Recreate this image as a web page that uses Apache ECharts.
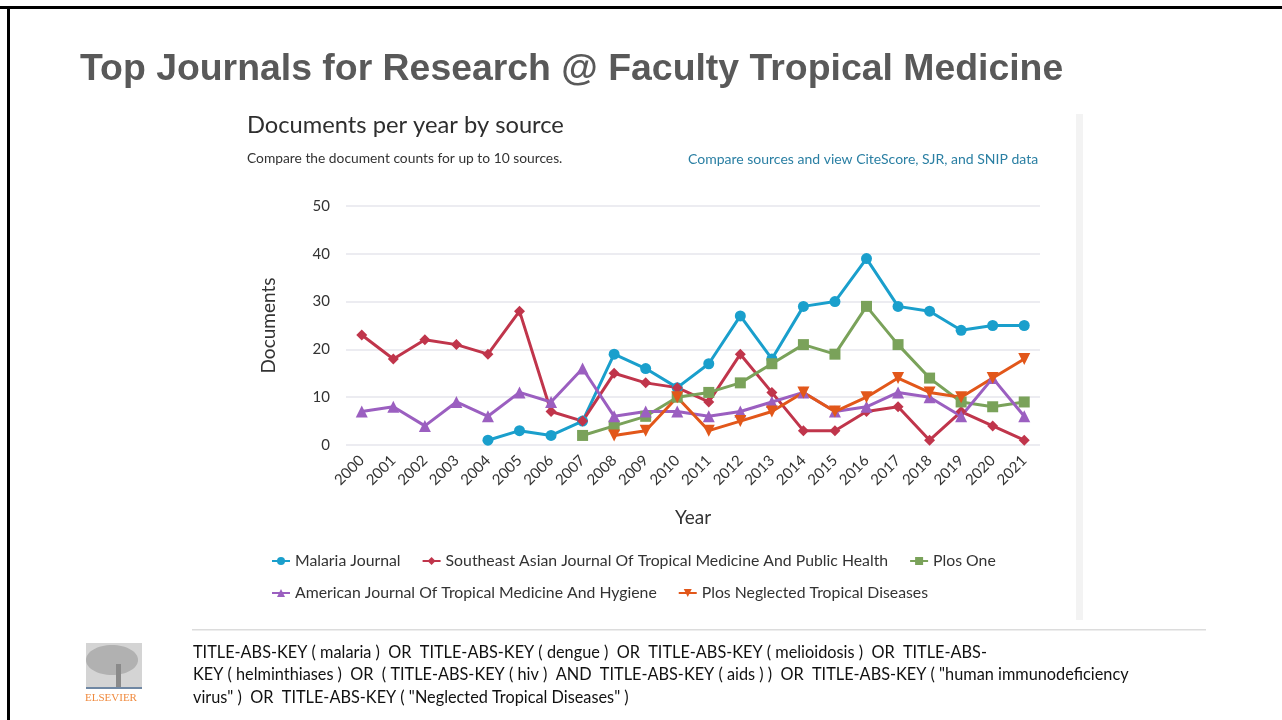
<!DOCTYPE html>
<html>
<head>
<meta charset="utf-8">
<title>Top Journals for Research</title>
<script src="https://cdn.jsdelivr.net/npm/echarts@6/dist/echarts.min.js"></script>
<style>
  html, body { margin: 0; padding: 0; background: #fff; }
  #main { width: 1282px; height: 720px; }
</style>
</head>
<body>
<div id="main"></div>
<script>
// years on the x axis
const years = ['2000', '2001', '2002', '2003', '2004', '2005', '2006', '2007', '2008', '2009', '2010',
    '2011', '2012', '2013', '2014', '2015', '2016', '2017', '2018', '2019', '2020', '2021'];

const malaria = [null, null, null, null, 1, 3, 2, 5, 19, 16, 12, 17, 27, 18, 29, 30, 39, 29, 28, 24, 25, 25];
const seAsian = [23, 18, 22, 21, 19, 28, 7, 5, 15, 13, 12, 9, 19, 11, 3, 3, 7, 8, 1, 7, 4, 1];
const plosOne = [null, null, null, null, null, null, null, 2, 4, 6, 10, 11, 13, 17, 21, 19, 29, 21, 14, 9, 8, 9];
const amJournal = [7, 8, 4, 9, 6, 11, 9, 16, 6, 7, 7, 6, 7, 9, 11, 7, 8, 11, 10, 6, 14, 6];
const plosNtd = [null, null, null, null, null, null, null, null, 2, 3, 10, 3, 5, 7, 11, 7, 10, 14, 11, 10, 14, 18];

const names = ['Malaria Journal', 'Southeast Asian Journal Of Tropical Medicine And Public Health', 'Plos One',
    'American Journal Of Tropical Medicine And Hygiene', 'Plos Neglected Tropical Diseases'];

const queryLines = [
    'TITLE-ABS-KEY ( malaria )  OR  TITLE-ABS-KEY ( dengue )  OR  TITLE-ABS-KEY ( melioidosis )  OR  TITLE-ABS-',
    'KEY ( helminthiases )  OR  ( TITLE-ABS-KEY ( hiv )  AND  TITLE-ABS-KEY ( aids ) )  OR  TITLE-ABS-KEY ( "human immunodeficiency',
    'virus" )  OR  TITLE-ABS-KEY ( "Neglected Tropical Diseases" )'
];

const chartFont = 'Lato';

function mkSeries(name, data, color, symbol, size, rotate) {
    return {
        name: name,
        type: 'line',
        data: data,
        symbol: symbol,
        symbolSize: size,
        symbolRotate: rotate || 0,
        showAllSymbol: true,
        connectNulls: false,
        lineStyle: { width: 3, color: color },
        itemStyle: { color: color },
        emphasis: { disabled: true }
    };
}

const myChart = echarts.init(document.getElementById('main'), null, { renderer: 'canvas' });

const legendText = { fontSize: 15.8, color: '#333', fontFamily: chartFont };

const option = {
    animation: false,
    backgroundColor: '#ffffff',
    textStyle: { fontFamily: chartFont },
    grid: { left: 346, right: 242, top: 206, bottom: 275, containLabel: false },
    xAxis: {
        type: 'category',
        data: years,
        boundaryGap: true,
        name: 'Year',
        nameLocation: 'middle',
        nameGap: 63,
        nameTextStyle: { fontSize: 19, color: '#333', fontFamily: chartFont },
        axisLine: { show: false },
        axisTick: { show: false },
        axisLabel: { rotate: 45, fontSize: 15, color: '#333', margin: 13, interval: 0, fontFamily: chartFont }
    },
    yAxis: {
        type: 'value',
        min: 0,
        max: 50,
        interval: 10,
        name: 'Documents',
        nameLocation: 'middle',
        nameGap: 68,
        nameTextStyle: { fontSize: 19, color: '#333', fontFamily: chartFont },
        axisLine: { show: false },
        axisTick: { show: false },
        axisLabel: { fontSize: 15, color: '#333', margin: 16, fontFamily: chartFont },
        splitLine: { lineStyle: { color: '#e6e6ec', width: 1.5 } }
    },
    legend: [
        {
            data: names.slice(0, 3),
            left: 271,
            top: 553,
            padding: 0,
            itemWidth: 18,
            itemHeight: 10,
            itemGap: 21,
            textStyle: legendText
        },
        {
            data: names.slice(3),
            left: 271,
            top: 585,
            padding: 0,
            itemWidth: 18,
            itemHeight: 10,
            itemGap: 21,
            textStyle: legendText
        }
    ],
    series: [
        mkSeries(names[0], malaria, '#1a9fcc', 'circle', 11),
        mkSeries(names[1], seAsian, '#c0354b', 'diamond', 11),
        mkSeries(names[2], plosOne, '#7aa25a', 'rect', 11),
        mkSeries(names[3], amJournal, '#9b5fc0', 'triangle', 12),
        mkSeries(names[4], plosNtd, '#e2571a', 'triangle', 12, 180)
    ],
    graphic: [
        // slide frame
        { type: 'rect', shape: { x: 0, y: 6, width: 1282, height: 3 }, style: { fill: '#000' }, silent: true },
        { type: 'rect', shape: { x: 7, y: 6, width: 3, height: 714 }, style: { fill: '#000' }, silent: true },
        // slide title
        {
            type: 'text', left: 80, top: 51,
            style: { text: 'Top Journals for Research @ Faculty Tropical Medicine', fill: '#595959',
                font: 'bold 37.4px "Liberation Sans", Arial, sans-serif' }
        },
        // chart header
        {
            type: 'text', left: 247, top: 113,
            style: { text: 'Documents per year by source', fill: '#2e2e2e', font: '23.7px Lato' }
        },
        {
            type: 'text', left: 247, top: 152,
            style: { text: 'Compare the document counts for up to 10 sources.', fill: '#333', font: '13.8px Lato' }
        },
        {
            type: 'text', left: 688, top: 152,
            style: { text: 'Compare sources and view CiteScore, SJR, and SNIP data', fill: '#2a7fa3', font: '14px Lato' }
        },
        // grey side bar of the screenshot
        { type: 'rect', shape: { x: 1076, y: 114, width: 7, height: 506 }, style: { fill: '#f3f3f3' }, silent: true },
        // separator line
        { type: 'rect', shape: { x: 192, y: 629, width: 1014, height: 1.5 }, style: { fill: '#dcdcdc' }, silent: true },
        // elsevier logo (rough tree)
        { type: 'rect', shape: { x: 86, y: 643, width: 56, height: 45 }, style: { fill: '#d4d4d4' }, silent: true },
        { type: 'ellipse', shape: { cx: 112, cy: 660, rx: 26, ry: 15 }, style: { fill: '#a8a8a8', opacity: 0.8 }, silent: true },
        { type: 'rect', shape: { x: 116, y: 664, width: 5, height: 24 }, style: { fill: '#8a8a8a' }, silent: true },
        { type: 'rect', shape: { x: 86, y: 687, width: 56, height: 2 }, style: { fill: '#6f87a3' }, silent: true },
        {
            type: 'text', left: 85, top: 693,
            style: { text: 'ELSEVIER', fill: '#f08a3e', font: '11px "Liberation Serif", serif' }
        },
        // search query
        {
            type: 'text', left: 193, top: 641,
            style: { text: queryLines.join('\n'), fill: '#111', font: '16.3px Lato', lineHeight: 22.5 }
        }
    ]
};

myChart.setOption(option);
window.addEventListener('resize', function () {
    myChart.resize();
});
</script>
</body>
</html>
